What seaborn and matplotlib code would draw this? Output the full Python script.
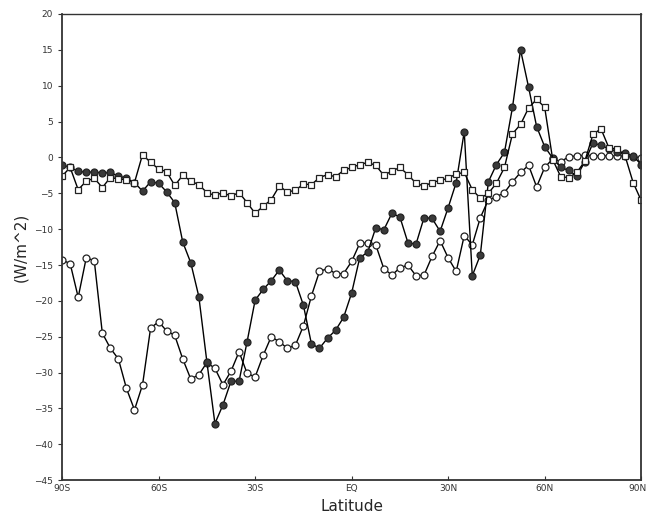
import numpy as np
import pandas as pd
import matplotlib
matplotlib.use('Agg')
import matplotlib.pyplot as plt
import matplotlib.transforms as mtransforms
import seaborn as sns

# latitude grid, 2.5 degree spacing from 90S to 90N
lat = np.arange(-90, 92.5, 2.5)

# open squares
sq_vals = [-2.6, -1.4, -4.5, -3.3, -2.9, -4.2, -2.8, -3.0, -3.1, -3.5,
           0.4, -0.7, -1.6, -2.0, -3.9, -2.5, -3.3, -3.8, -4.9, -5.3,
           -4.9, -5.4, -4.9, -6.3, -7.8, -6.8, -5.9, -4.0, -4.8, -4.6,
           -3.7, -3.8, -2.8, -2.4, -2.7, -1.8, -1.4, -1.0, -0.7, -1.1,
           -2.5, -1.9, -1.4, -2.4, -3.6, -4.0, -3.5, -3.2, -2.9, -2.3,
           -2.1, -4.5, -5.7, -5.0, -3.6, -1.4, 3.3, 4.6, 6.9, 8.1,
           7.0, -0.3, -2.7, -2.8, -2.1, -0.5, 3.2, 4.0, 1.3, 1.2,
           0.2, -3.5, -6.0]

# filled circles
fill_vals = [-1.0, -1.4, -1.9, -2.1, -2.0, -2.2, -2.1, -2.6, -2.9, -3.5,
             -4.7, -3.4, -3.6, -4.8, -6.3, -11.8, -14.7, -19.4, -28.5, -37.1,
             -34.5, -31.2, -31.2, -25.7, -19.9, -18.4, -17.2, -15.7, -17.2, -17.3,
             -20.6, -26.0, -26.6, -25.2, -24.1, -22.3, -18.9, -14.0, -13.2, -9.8,
             -10.1, -7.8, -8.3, -11.9, -12.1, -8.4, -8.5, -10.3, -7.0, -3.5,
             3.6, -16.5, -13.6, -3.4, -1.0, 0.7, 7.0, 15.0, 9.8, 4.3,
             1.5, -0.1, -1.4, -1.8, -2.6, -0.6, 2.0, 1.7, 1.2, 0.8,
             0.6, 0.2, -1.0]

# open circles
open_vals = [-14.3, -14.8, -19.5, -14.0, -14.4, -24.5, -26.6, -28.1, -32.2, -35.2,
             -31.7, -23.8, -22.9, -24.2, -24.8, -28.1, -30.9, -30.3, -28.6, -29.4,
             -31.7, -29.8, -27.1, -30.1, -30.6, -27.6, -25.0, -25.7, -26.6, -26.2,
             -23.5, -19.3, -15.9, -15.5, -16.2, -16.2, -14.5, -12.0, -11.9, -12.2,
             -15.5, -16.4, -15.4, -15.0, -16.5, -16.4, -13.8, -11.6, -14.0, -15.9,
             -10.9, -12.2, -8.4, -5.9, -5.5, -4.9, -3.4, -2.1, -1.1, -4.1,
             -1.4, -0.2, -0.6, 0.1, 0.2, 0.3, 0.2, 0.2, 0.2, 0.2,
             0.2, 0.1, -0.1]

xtick_pos = [-90, -60, -30, 0, 30, 60, 90]
xtick_labels = ['90S', '60S', '30S', 'EQ', '30N', '60N', '90N']
ytick_pos = list(range(-45, 25, 5))

sns.set_style("ticks")

fig = plt.figure(figsize=(6.47, 5.18), dpi=100)
ax = fig.add_axes([0.096, 0.073, 0.895, 0.9])

df_sq = pd.DataFrame({"lat": lat, "val": sq_vals})
df_fill = pd.DataFrame({"lat": lat, "val": fill_vals})
df_open = pd.DataFrame({"lat": lat, "val": open_vals})

sns.lineplot(data=df_open, x="lat", y="val", ax=ax, color="black", linewidth=1.0,
             marker="o", markersize=5, markerfacecolor="white",
             markeredgecolor="#222222", markeredgewidth=0.9)
sns.lineplot(data=df_fill, x="lat", y="val", ax=ax, color="black", linewidth=1.0,
             marker="o", markersize=5, markerfacecolor="#3a3a3a",
             markeredgecolor="#222222", markeredgewidth=0.9)
sns.lineplot(data=df_sq, x="lat", y="val", ax=ax, color="black", linewidth=1.0,
             marker="s", markersize=5, markerfacecolor="white",
             markeredgecolor="#222222", markeredgewidth=0.9)

ax.set_xlim(-90, 90)
ax.set_ylim(-45, 20)
ax.set_xticks(xtick_pos)
ax.set_xticklabels(xtick_labels)
ax.set_yticks(ytick_pos)
ax.tick_params(axis='both', labelsize=6.5, length=3, width=0.8, colors='#333333')
ax.tick_params(axis='x', direction='in', pad=3)

# keep the last x label inside the figure
last = ax.get_xticklabels()[-1]
last.set_horizontalalignment('right')
last.set_transform(last.get_transform() + mtransforms.ScaledTranslation(4 / 72, 0, fig.dpi_scale_trans))

for s in ax.spines.values():
    s.set_visible(True)
    s.set_linewidth(1.3)
    s.set_color('#333333')
ax.spines['top'].set_linewidth(1.0)

ax.set_xlabel("Latitude", fontsize=11, labelpad=4)
ax.set_ylabel("(W/m^2)", fontsize=11, labelpad=4)

plt.savefig("out.png", dpi=100)
plt.close()
